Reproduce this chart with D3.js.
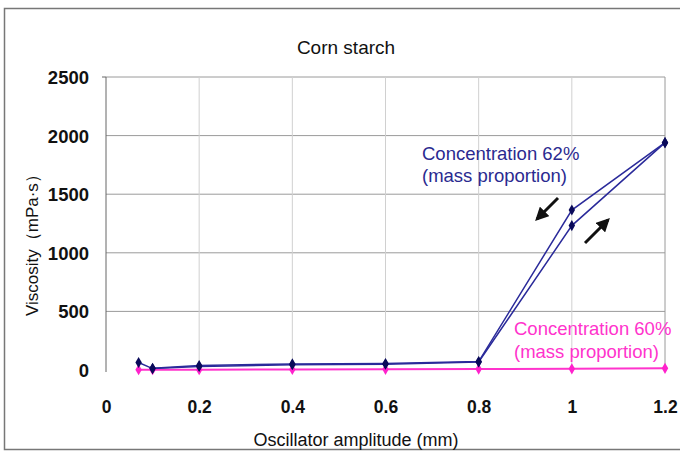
<!DOCTYPE html>
<html><head><meta charset="utf-8">
<script src="https://cdn.jsdelivr.net/npm/d3@7"></script>
<style>body{margin:0;background:#fff;} svg{display:block;font-family:"Liberation Sans",Arial,sans-serif;}</style>
</head><body>
<svg id="c" width="680" height="452"></svg>
<script>
const xTicks = [0, 0.2, 0.4, 0.6, 0.8, 1, 1.2];
const yTicks = [0, 500, 1000, 1500, 2000, 2500];
// Concentration 62% : amplitude increasing then decreasing
const amp62Up = [0.07, 0.1, 0.2, 0.4, 0.6, 0.8, 1.0, 1.2];
const visc62Up = [64, 12, 30, 45, 50, 68, 1232, 1940];
const amp62Down = [1.2, 1.0, 0.8, 0.6, 0.4, 0.2, 0.1];
const visc62Down = [1940, 1365, 72, 55, 52, 38, 14];
// Concentration 60%
const amp60 = [0.07, 0.1, 0.2, 0.4, 0.6, 0.8, 1.0, 1.2];
const visc60 = [2, 2, 3, 4, 6, 8, 10, 14];

const svg = d3.select("#c");
const x = d3.scaleLinear().domain([0, 1.2]).range([106, 665]);
const y = d3.scaleLinear().domain([0, 2500]).range([370, 77]);

// outer frame
svg.append("rect").attr("x", 4.5).attr("y", 8.5).attr("width", 690).attr("height", 441)
  .attr("fill", "none").attr("stroke", "#777").attr("stroke-width", 1.5);

// gridlines
svg.append("g").selectAll("line").data(yTicks.filter(d => d > 0)).join("line")
  .attr("x1", x(0)).attr("x2", x(1.2)).attr("y1", d => y(d)).attr("y2", d => y(d))
  .attr("stroke", "#9a9a9a").attr("stroke-width", 1);
svg.append("g").selectAll("line").data(xTicks.filter(d => d > 0)).join("line")
  .attr("x1", d => x(d)).attr("x2", d => x(d)).attr("y1", y(2500)).attr("y2", y(0) - 4)
  .attr("stroke", d => d === 1.2 ? "#9a9a9a" : "#d0d0d0").attr("stroke-width", 1);

// y axis
const yAxis = d3.axisLeft(y).tickValues(yTicks).tickSize(0).tickPadding(17).tickFormat(d3.format("d"));
const ya = svg.append("g").attr("transform", `translate(${x(0)},0)`).call(yAxis);
ya.select(".domain").attr("stroke", "#666").attr("d", `M0,${y(2500)}V${y(0) + 2}`);
ya.selectAll("text").attr("font-size", 18.5).attr("font-weight", "bold").attr("fill", "#111")
  .attr("font-family", "Liberation Sans, Arial, sans-serif").attr("dy", "0.35em");
ya.append("line").attr("x1", -4).attr("x2", 0).attr("y1", y(2500)).attr("y2", y(2500)).attr("stroke", "#666");

// x axis labels
const xAxis = d3.axisBottom(x).tickValues(xTicks).tickSize(0).tickPadding(0).tickFormat(d => d3.format("~g")(d));
const xa = svg.append("g").attr("transform", `translate(0,401)`).call(xAxis);
xa.select(".domain").remove();
xa.selectAll("text").attr("font-size", 17.5).attr("font-weight", "bold").attr("fill", "#111")
  .attr("font-family", "Liberation Sans, Arial, sans-serif");

// titles
svg.append("text").attr("x", 346).attr("y", 54).attr("text-anchor", "middle")
  .attr("font-size", 19).attr("fill", "#111").text("Corn starch");
svg.append("text").attr("x", 356).attr("y", 446).attr("text-anchor", "middle")
  .attr("font-size", 18).attr("fill", "#111").text("Oscillator amplitude (mm)");
svg.append("text").attr("transform", `translate(38,${y(1100)}) rotate(-90)`).attr("text-anchor", "middle")
  .attr("font-size", 17).attr("fill", "#111").text("Viscosity（mPa·s）");

// lines
const line = d3.line().x(d => x(d[0])).y(d => y(d[1]));
const s62u = amp62Up.map((a, i) => [a, visc62Up[i]]);
const s62d = amp62Down.map((a, i) => [a, visc62Down[i]]);
const s60 = amp60.map((a, i) => [a, visc60[i]]);

svg.append("path").datum(s60).attr("d", line).attr("fill", "none").attr("stroke", "#ff33cc").attr("stroke-width", 2);
svg.append("path").datum(s62u).attr("d", line).attr("fill", "none").attr("stroke", "#2a2a9a").attr("stroke-width", 1.5);
svg.append("path").datum(s62d).attr("d", line).attr("fill", "none").attr("stroke", "#2a2a9a").attr("stroke-width", 1.5);

const diamond = d3.symbol().type(d3.symbolDiamond).size(36);
svg.append("g").selectAll("path").data(s60).join("path").attr("d", diamond)
  .attr("transform", d => `translate(${x(d[0])},${y(d[1])})`).attr("fill", "#ff22cc");
svg.append("g").selectAll("path").data(s62u.concat(s62d)).join("path").attr("d", diamond)
  .attr("transform", d => `translate(${x(d[0])},${y(d[1])})`).attr("fill", "#0a0a5a");

// annotations
svg.append("text").attr("x", 422).attr("y", 160).attr("font-size", 18.5).attr("fill", "#2a2a90").text("Concentration 62%");
svg.append("text").attr("x", 422).attr("y", 182).attr("font-size", 18.5).attr("fill", "#2a2a90").text("(mass proportion)");
svg.append("text").attr("x", 514).attr("y", 335).attr("font-size", 18.5).attr("fill", "#ff33cc").text("Concentration 60%");
svg.append("text").attr("x", 514).attr("y", 358).attr("font-size", 18.5).attr("fill", "#ff33cc").text("(mass proportion)");

// arrows
const defs = svg.append("defs");
defs.append("marker").attr("id", "ah").attr("viewBox", "0 0 10 10").attr("refX", 8).attr("refY", 5)
  .attr("markerWidth", 4.5).attr("markerHeight", 4.5).attr("orient", "auto")
  .append("path").attr("d", "M0,0L10,5L0,10Z").attr("fill", "#111");
svg.append("line").attr("x1", 558).attr("y1", 198).attr("x2", 537).attr("y2", 219)
  .attr("stroke", "#111").attr("stroke-width", 3).attr("marker-end", "url(#ah)");
svg.append("line").attr("x1", 585).attr("y1", 243).attr("x2", 608).attr("y2", 220)
  .attr("stroke", "#111").attr("stroke-width", 3).attr("marker-end", "url(#ah)");
</script>
</body></html>
